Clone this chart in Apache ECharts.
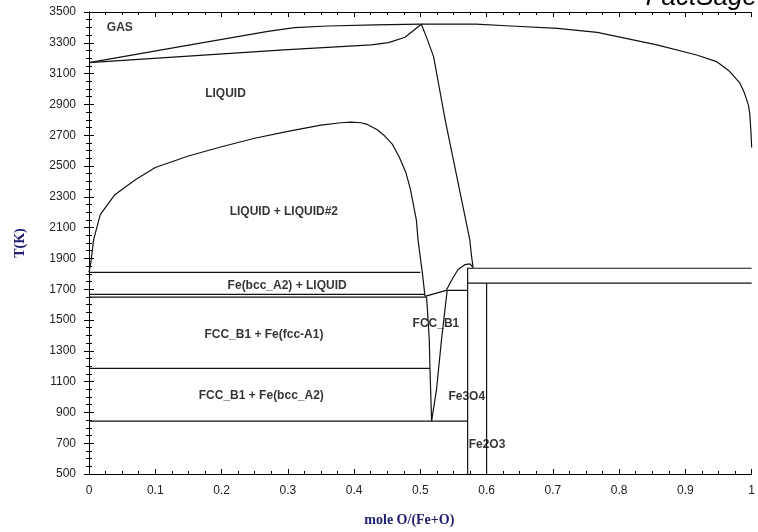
<!DOCTYPE html>
<html>
<head>
<meta charset="utf-8">
<script src="https://cdn.jsdelivr.net/npm/echarts@6/dist/echarts.min.js"></script>
<style>
  html, body { margin: 0; padding: 0; background: #fff; }
  #chart { width: 758px; height: 532px; }
</style>
</head>
<body>
<div id="chart"></div>
<script>
// boundaries, [mole O/(Fe+O), T(K)]
const gasUpper = [[0, 3171], [0.144, 3280], [0.27, 3374], [0.31, 3398], [0.36, 3409], [0.432, 3416], [0.5015, 3421],
  [0.584, 3421], [0.637, 3409], [0.707, 3394], [0.767, 3368], [0.857, 3286], [0.917, 3221],
  [0.947, 3178], [0.967, 3113], [0.982, 3040], [0.989, 2975], [0.995, 2897], [0.997, 2845],
  [0.999, 2716], [1.0, 2620]]
const gasLower = [[0, 3171], [0.294, 3254], [0.426, 3286], [0.452, 3301], [0.477, 3336], [0.5, 3416], [0.5015, 3421]]
const liquidusO = [[0.5015, 3421], [0.509, 3340], [0.52, 3210], [0.5375, 2800], [0.5746, 2022], [0.577, 1925], [0.5796, 1840]]
const liquidusFeO = [[0.507, 1653], [0.539, 1692], [0.5495, 1776], [0.557, 1828], [0.5676, 1860], [0.575, 1864], [0.5796, 1840]]
const dome = [[0, 1809], [0.003, 1880], [0.007, 2022], [0.017, 2184], [0.039, 2314], [0.07, 2411],
  [0.1, 2490], [0.15, 2565], [0.2, 2625], [0.25, 2680], [0.3, 2725], [0.35, 2765], [0.38, 2781],
  [0.395, 2785], [0.41, 2781], [0.42, 2770], [0.435, 2735], [0.445, 2700], [0.458, 2640],
  [0.468, 2560], [0.478, 2460], [0.485, 2350], [0.494, 2150], [0.4965, 2022], [0.4994, 1925],
  [0.503, 1809], [0.507, 1655]]
const fccLeft = [[0.5095, 1648], [0.5135, 1374], [0.5145, 1186], [0.517, 845]]
const fccRight = [[0.5405, 1692], [0.532, 1374], [0.5245, 1050], [0.517, 845]]
const isotherms = [
  [[0, 1809], [0.5, 1809]],
  [[0, 1666], [0.507, 1666]],
  [[0, 1648], [0.5095, 1648]],
  [[0, 1186], [0.5145, 1186]],
  [[0, 843], [0.5714, 843]],
  [[0.5405, 1692], [0.5714, 1692]],
  [[0.5714, 1836], [1, 1836]],
  [[0.5714, 1740], [1, 1740]],
]
const fe3o4Line = [[0.5714, 500], [0.5714, 1840]]
const fe2o3Line = [[0.6, 500], [0.6, 1740]]

const regionLabels = [
  [0.0465, 3396, 'GAS'],
  [0.206, 2969, 'LIQUID'],
  [0.294, 2204, 'LIQUID + LIQUID#2'],
  [0.299, 1724, 'Fe(bcc_A2) + LIQUID'],
  [0.264, 1407, 'FCC_B1 + Fe(fcc-A1)'],
  [0.5235, 1478, 'FCC_B1'],
  [0.26, 1011, 'FCC_B1 + Fe(bcc_A2)'],
  [0.57, 1001, 'Fe3O4'],
  [0.6006, 689, 'Fe2O3'],
]

const chart = echarts.init(document.getElementById('chart'), null, { renderer: 'canvas' })

const lineStyle = { color: '#111', width: 1.2 }
const curve = data => ({
  type: 'line',
  data,
  showSymbol: false,
  symbol: 'none',
  silent: true,
  lineStyle,
})

const tickAxis = {
  axisLine: { lineStyle: { color: '#000', width: 1 } },
  axisTick: { inside: true, length: 5, lineStyle: { color: '#000' } },
  minorTick: { show: true, splitNumber: 4, length: 3, lineStyle: { color: '#000' } },
  splitLine: { show: false },
}
const labelStyle = { fontFamily: 'Liberation Sans', fontSize: 12, color: '#222' }
const nameStyle = { fontFamily: 'Liberation Serif', fontWeight: 'bold', fontSize: 14, color: '#20206e' }

const option = {
  animation: false,
  backgroundColor: '#fff',
  grid: { left: 89, right: 3, top: 12, bottom: 57 },
  xAxis: [{
    type: 'value', min: 0, max: 1, interval: 0.1, position: 'bottom',
    ...tickAxis,
    axisLabel: { ...labelStyle, margin: 11, formatter: v => String(+v.toFixed(2)) },
    name: 'mole O/(Fe+O)', nameLocation: 'middle', nameGap: 39,
    nameTextStyle: { ...nameStyle, padding: [0, 22, 0, 0] },
  }, {
    type: 'value', min: 0, max: 1, interval: 0.1, position: 'top',
    ...tickAxis,
    axisLabel: { show: false },
  }],
  yAxis: [{
    type: 'value', min: 500, max: 3500, interval: 200, position: 'left',
    ...tickAxis,
    axisLabel: { ...labelStyle, margin: 13, formatter: v => String(v) },
    name: 'T(K)', nameLocation: 'middle', nameGap: 62, nameRotate: 90,
    nameTextStyle: nameStyle,
  }, {
    type: 'value', min: 500, max: 3500, interval: 200, position: 'right',
    ...tickAxis,
    axisLabel: { show: false },
  }],
  graphic: [{
    type: 'text',
    style: {
      x: 757, y: -2, text: 'FactSage',
      align: 'right', verticalAlign: 'middle',
      font: 'italic 26px "Liberation Sans"', fill: '#000',
    },
  }],
  series: [
    curve(gasUpper),
    curve(gasLower),
    curve(liquidusO),
    curve(liquidusFeO),
    curve(dome),
    curve(fccLeft),
    curve(fccRight),
    ...isotherms.map(curve),
    curve(fe3o4Line),
    curve(fe2o3Line),
    {
      type: 'scatter',
      data: regionLabels,
      symbolSize: 0,
      silent: true,
      z: 5,
      label: {
        show: true,
        position: 'inside',
        formatter: p => p.data[2],
        fontFamily: 'Liberation Sans',
        fontWeight: 'bold',
        fontSize: 12,
        color: '#000',
      },
    },
  ],
}

chart.setOption(option)
</script>
</body>
</html>
